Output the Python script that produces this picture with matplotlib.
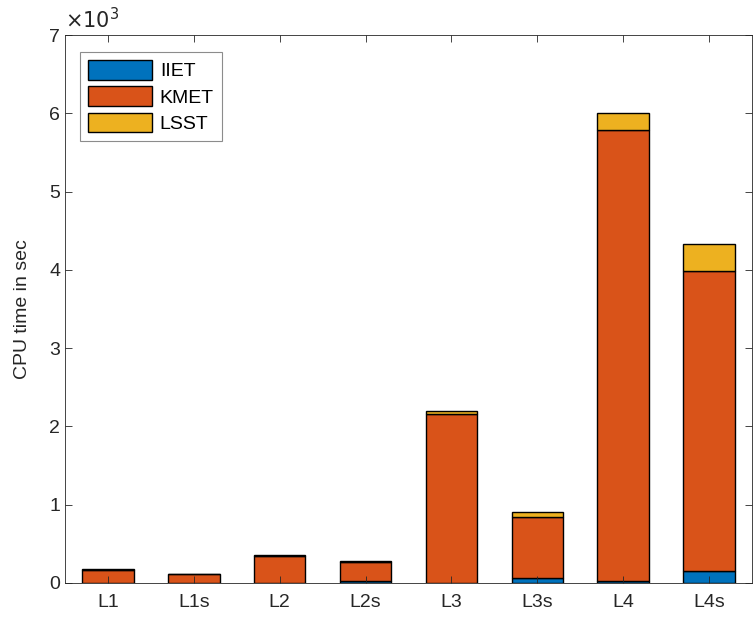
import matplotlib
matplotlib.use("Agg")
import matplotlib.pyplot as plt
import numpy as np
from matplotlib.ticker import FuncFormatter

plt.rcParams['font.family'] = ['Liberation Sans', 'DejaVu Sans']

labels = ['L1', 'L1s', 'L2', 'L2s', 'L3', 'L3s', 'L4', 'L4s']
iiet = [5, 4, 5, 30, 5, 59, 25, 148]
kmet = [165, 108, 340, 240, 2148, 788, 5768, 3837]
lsst = [4, 3, 7, 6, 47, 60, 217, 345]

colors = ['#0072BD', '#D95319', '#EDB120']
axcol = '#262626'

fig = plt.figure(figsize=(7.55, 6.2), dpi=100)
ax = fig.add_axes([0.0861, 0.0597, 0.9099, 0.8838])

x = np.arange(1, len(labels) + 1)
bottom = np.zeros(len(labels))
for vals, c, name in zip([iiet, kmet, lsst], colors, ['IIET', 'KMET', 'LSST']):
    ax.bar(x, vals, width=0.6, bottom=bottom, color=c, edgecolor='black',
           linewidth=1.0, label=name)
    bottom += np.array(vals)

ax.set_xlim(0.5, 8.5)
ax.set_ylim(0, 7000)
ax.set_xticks(x)
ax.set_xticklabels(labels)
ax.set_yticks(np.arange(0, 7001, 1000))
ax.yaxis.set_major_formatter(FuncFormatter(lambda v, _: f"{v/1000:g}"))
ax.text(0.0, 1.005, r'$\times10^3$', transform=ax.transAxes, fontsize=15,
        color=axcol, ha='left', va='bottom')

ax.tick_params(direction='in', top=True, right=True, labelsize=14,
               colors=axcol, length=5, width=0.6)
ax.tick_params(axis='x', pad=8)
for s in ax.spines.values():
    s.set_color(axcol)
    s.set_linewidth(0.6)
ax.set_ylabel('CPU time in sec', fontsize=14, color=axcol, labelpad=13)

leg = ax.legend(loc='upper left', bbox_to_anchor=(0.022, 0.969), fontsize=14,
                borderaxespad=0, handlelength=3.3, handleheight=1.2,
                handletextpad=0.4, labelspacing=0.3, borderpad=0.4,
                fancybox=False, edgecolor='#8c8c8c', framealpha=1)
leg.get_frame().set_linewidth(0.8)

fig.savefig('out.png', dpi=100)
